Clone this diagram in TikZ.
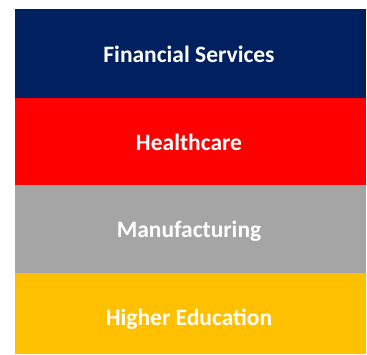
\documentclass[tikz,border=0pt]{standalone}
\usepackage{fontspec}
\setmainfont{Carlito}
\definecolor{navyband}{HTML}{002060}
\definecolor{redband}{HTML}{FF0000}
\definecolor{grayband}{HTML}{A5A5A5}
\definecolor{goldband}{HTML}{FFC000}
\begin{document}
\begin{tikzpicture}[x=1pt,y=1pt,yscale=-1,
  bandlabel/.style={text=white, font=\bfseries\fontsize{23.5}{28}\selectfont}]

\useasboundingbox (0,0) rectangle (367,354);

% Bands
\fill [navyband] (15,  9) -- (366,  9) -- (366, 97.5) -- (15, 97.5) -- cycle ;
\fill [redband]  (15, 97.5) -- (366, 97.5) -- (366,185) -- (15,185) -- cycle ;
\fill [grayband] (15,185) -- (366,185) -- (366,272.5) -- (15,272.5) -- cycle ;
\fill [goldband] (15,272.5) -- (366,272.5) -- (366,354) -- (15,354) -- cycle ;

% Labels
\node [bandlabel] (fin)  at (189, 54) {Financial Services};
\node [bandlabel] (hc)   at (189,142) {Healthcare};
\node [bandlabel] (mfg)  at (189,231) {Manufacturing};
\node [bandlabel] (hied) at (189,319) {Higher Education};

\end{tikzpicture}
\end{document}
